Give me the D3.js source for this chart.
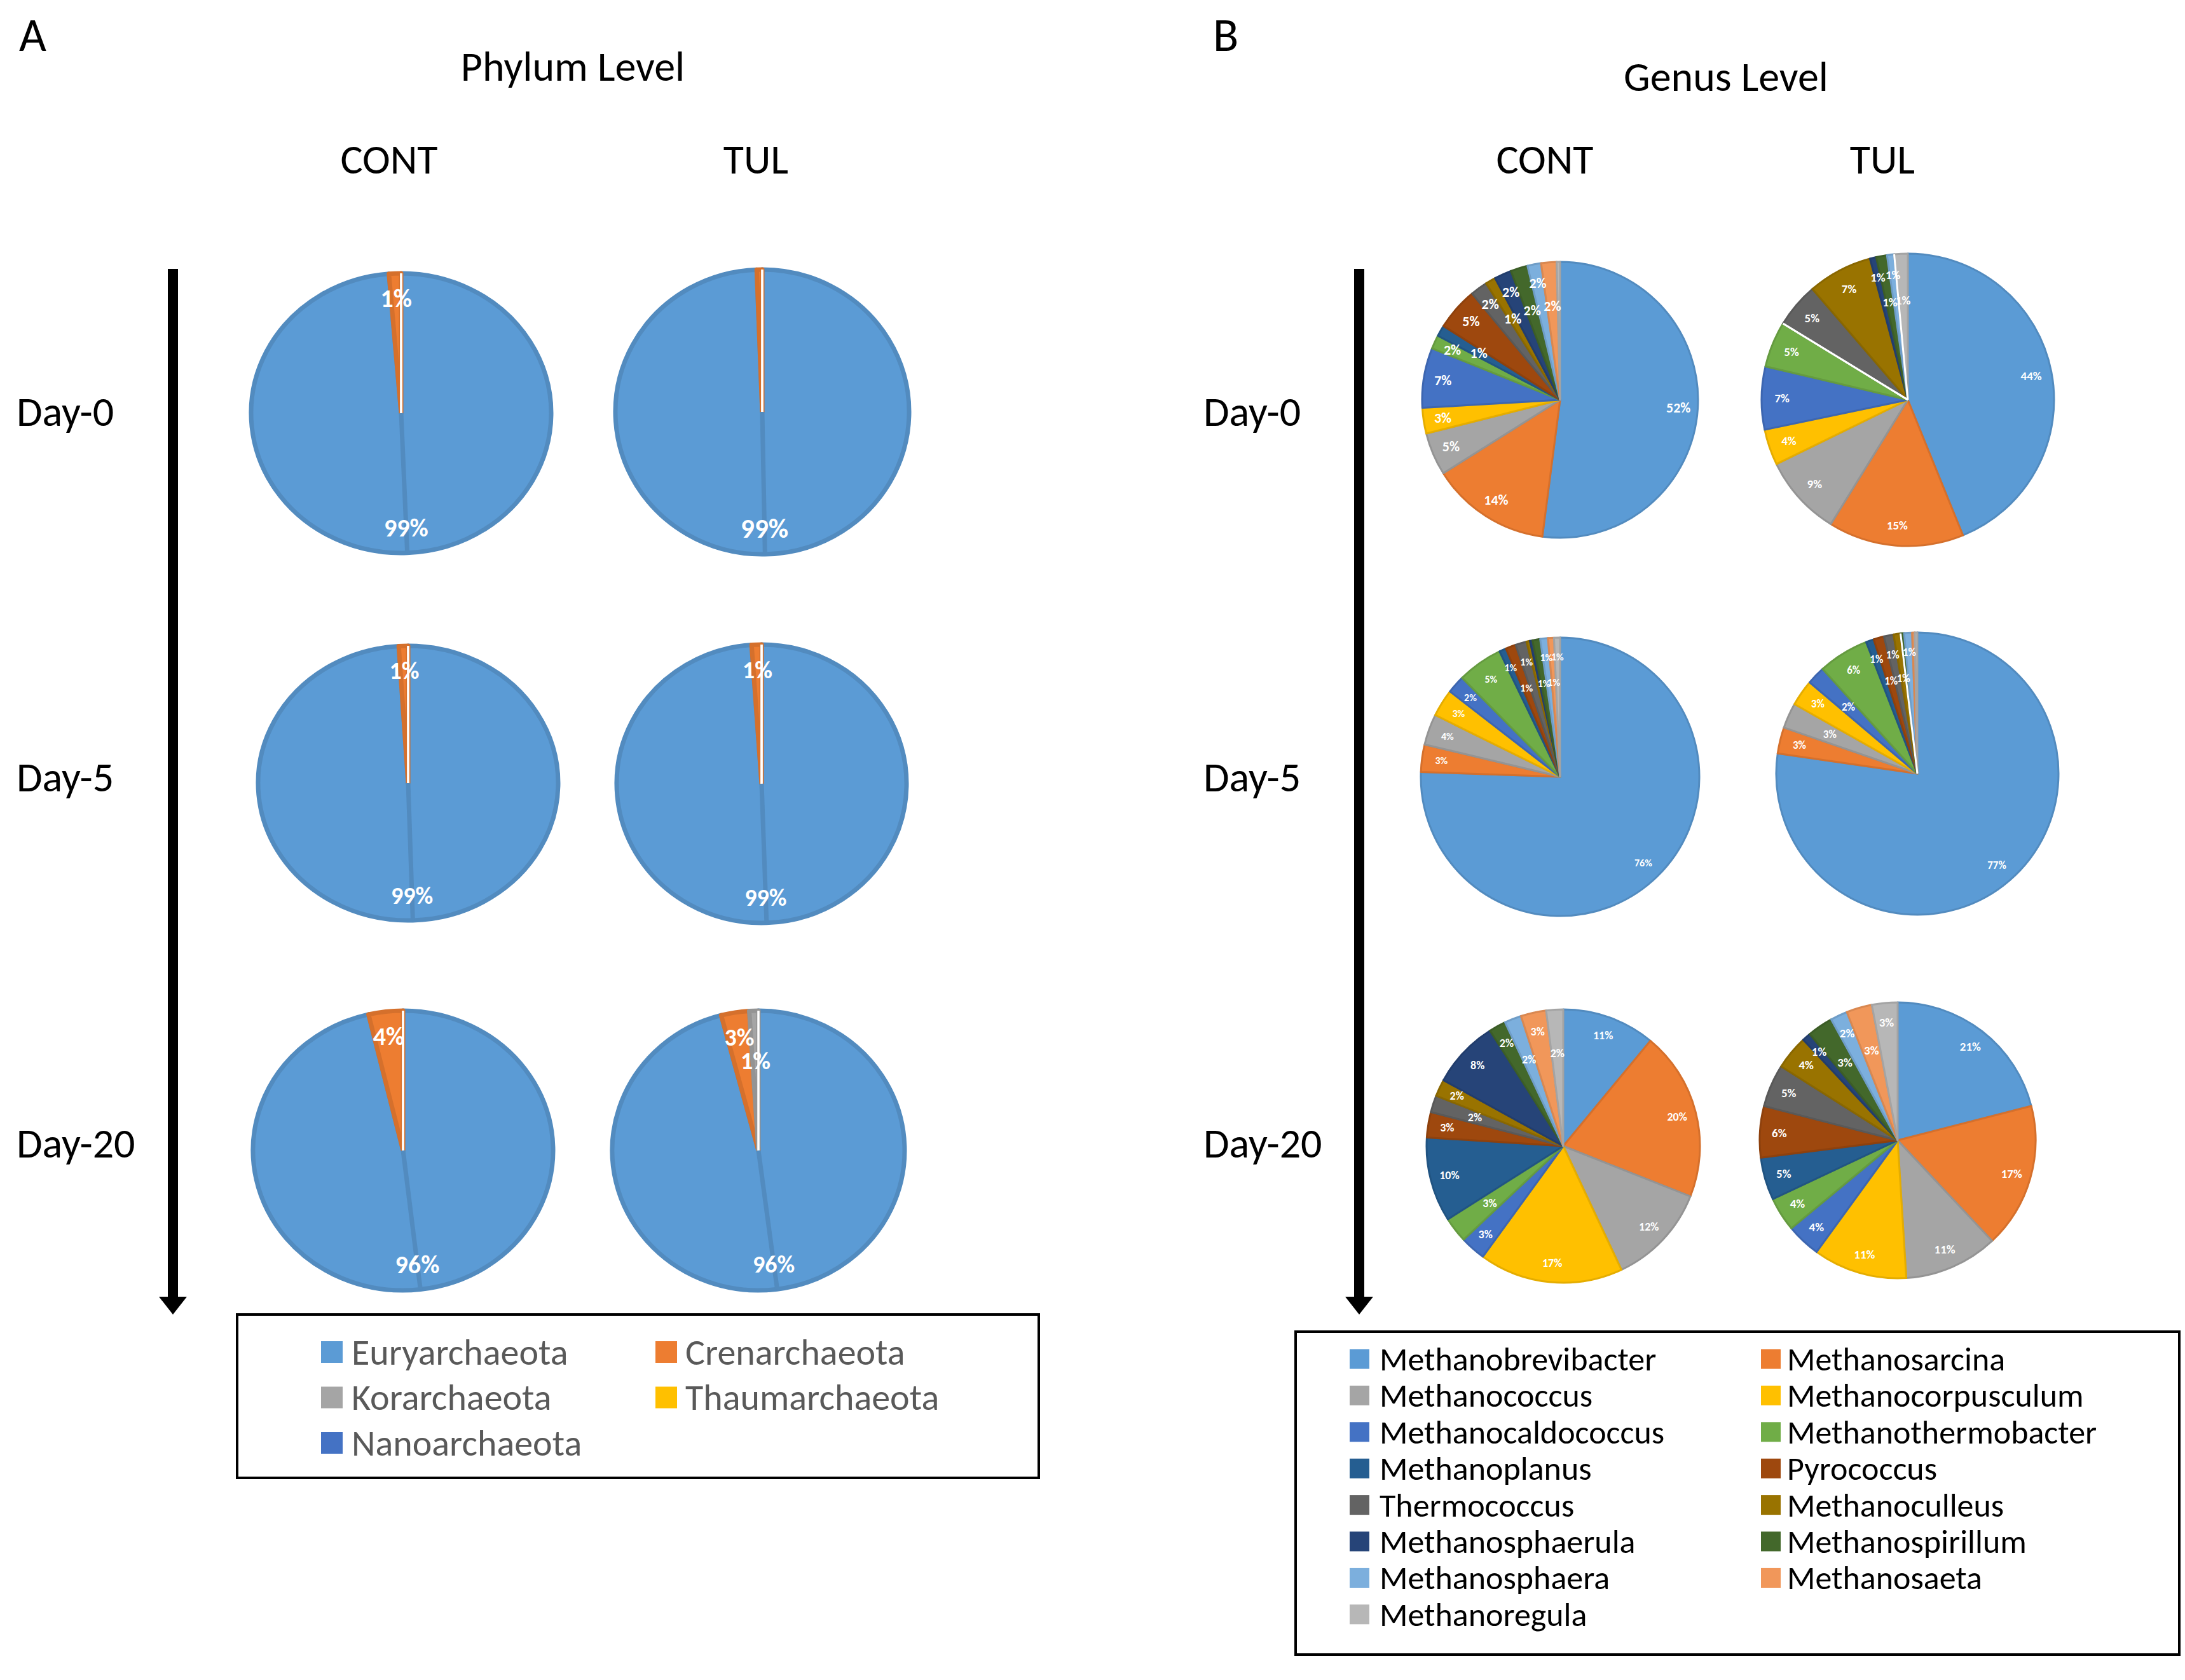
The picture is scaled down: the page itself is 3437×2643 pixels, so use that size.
<!DOCTYPE html>
<html>
<head>
<meta charset="utf-8">
<script src="https://d3js.org/d3.v7.min.js"></script>
<style>
    body { margin: 0; background: #fff; }
    svg text { font-family: Carlito, Lato, "Open Sans", sans-serif; }
</style>
</head>
<body>
<svg id="svg"></svg>
<script>
    const W = 3437, H = 2643;

    // ---- data (percent of reads) ----
    const days = ['Day-0', 'Day-5', 'Day-20'];
    const groups = ['CONT', 'TUL'];

    const phyla = ['Euryarchaeota', 'Crenarchaeota', 'Korarchaeota', 'Thaumarchaeota', 'Nanoarchaeota'];
    const phylumColors = ['#5b9bd5', '#ed7d31', '#a5a5a5', '#ffc000', '#4472c4'];
    // [CONT, TUL]
    const phylumDay0  = [[98.7, 1.3, 0, 0, 0], [99.4, 0.6, 0, 0, 0]];
    const phylumDay5  = [[99.0, 1.0, 0, 0, 0], [98.9, 1.1, 0, 0, 0]];
    const phylumDay20 = [[96.3, 3.7, 0, 0, 0], [95.9, 3.1, 1.0, 0, 0]];

    const genera = ['Methanobrevibacter', 'Methanosarcina', 'Methanococcus', 'Methanocorpusculum',
        'Methanocaldococcus', 'Methanothermobacter', 'Methanoplanus', 'Pyrococcus', 'Thermococcus',
        'Methanoculleus', 'Methanosphaerula', 'Methanospirillum', 'Methanosphaera', 'Methanosaeta',
        'Methanoregula'];
    const genusColors = ['#5b9bd5', '#ed7d31', '#a5a5a5', '#ffc000', '#4472c4', '#70ad47', '#255e91',
        '#9e480e', '#636363', '#997300', '#264478', '#43682b', '#7cafdd', '#f1975a', '#b7b7b7'];
    const genusDay0 = [
        [52.0, 14.0, 5.0, 3.0, 7.0, 1.6, 1.3, 5.0, 2.0, 1.2, 2.0, 2.0, 1.6, 1.8, 0.4],
        [44.2, 15.1, 9.0, 4.0, 7.0, 5.1, 0, 0, 5.0, 7.2, 0.7, 1.2, 0.8, 0, 1.5]
    ];
    const genusDay5 = [
        [76.0, 3.2, 3.6, 3.2, 2.1, 5.3, 0.8, 1.2, 1.3, 0.4, 0.3, 0.9, 0.9, 0.7, 0.7],
        [77.2, 3.0, 2.9, 3.0, 2.1, 5.8, 0.9, 1.2, 1.1, 0.8, 0, 0.4, 0.9, 0.3, 0.3]
    ];
    const genusDay20 = [
        [11, 20, 12, 17, 3, 3, 10, 3, 2, 2, 8, 2, 2, 3, 2],
        [21, 17, 11, 11, 4, 4, 5, 6, 5, 4, 1, 3, 2, 3, 3]
    ];

    const phylumData = [phylumDay0, phylumDay5, phylumDay20];
    const genusData = [genusDay0, genusDay5, genusDay20];

    // ---- layout ----
    const phylumPos = [
        [{cx: 631, cy: 650, rx: 236, ry: 220, fs: 40}, {cx: 1199, cy: 648, rx: 231, ry: 224, fs: 43}],
        [{cx: 642, cy: 1232, rx: 236, ry: 216, fs: 38}, {cx: 1198, cy: 1233, rx: 228, ry: 219, fs: 38}],
        [{cx: 634, cy: 1810, rx: 236, ry: 220, fs: 40}, {cx: 1193, cy: 1810, rx: 230, ry: 220, fs: 38}]
    ];
    const genusPos = [
        [{cx: 2454, cy: 629, rx: 217, ry: 217, fs: 22}, {cx: 3001, cy: 629, rx: 230, ry: 230, fs: 19}],
        [{cx: 2454, cy: 1222, rx: 219, ry: 219, fs: 16}, {cx: 3016, cy: 1217, rx: 222, ry: 222, fs: 17}],
        [{cx: 2459, cy: 1803, rx: 215, ry: 215, fs: 18}, {cx: 2985, cy: 1794, rx: 217, ry: 217, fs: 19}]
    ];

    let svg = d3.select('#svg')
        .attr('width', W).attr('height', H)
        .attr('viewBox', `0 0 ${W} ${H}`);

    svg.append('rect').attr('width', W).attr('height', H).attr('fill', '#fff');

    function drawPie(values, colors, pos, opts) {
        const R = 100;
        let arcs = d3.pie().sort(null).value(d => d)(values);
        let total = d3.sum(values);
        let arc = d3.arc().innerRadius(0).outerRadius(R);

        let g = svg.append('g')
            .attr('transform', `translate(${pos.cx},${pos.cy}) scale(${pos.rx / R},${pos.ry / R})`);

        g.selectAll('path.slice')
            .data(arcs.filter(a => a.value > 0))
            .enter()
            .append('path')
            .attr('class', 'slice')
            .attr('d', arc)
            .attr('fill', a => colors[a.index])
            .attr('stroke', a => d3.color(colors[a.index]).darker(0.3))
            .attr('stroke-width', opts.stroke)
            .attr('stroke-linejoin', 'round')
            .attr('vector-effect', 'non-scaling-stroke');

        // zero slices show up as thin white spokes
        g.selectAll('path.zero')
            .data(arcs.filter(a => a.value === 0))
            .enter()
            .append('path')
            .attr('class', 'zero')
            .attr('d', arc)
            .attr('fill', 'none')
            .attr('stroke', '#fff')
            .attr('stroke-width', 3)
            .attr('vector-effect', 'non-scaling-stroke');

        if (opts.spokes) {
            g.selectAll('line.spoke')
                .data(arcs.filter(a => a.value / total > 0.5))
                .enter()
                .append('line')
                .attr('x1', 0).attr('y1', 0)
                .attr('x2', a => Math.sin((a.startAngle + a.endAngle) / 2) * R)
                .attr('y2', a => -Math.cos((a.startAngle + a.endAngle) / 2) * R)
                .attr('stroke', a => d3.color(colors[a.index]).darker(0.3))
                .attr('stroke-width', opts.stroke)
                .attr('vector-effect', 'non-scaling-stroke');
        }

        // labels; crowded neighbours alternate between an outer and inner ring
        let run = 0;
        arcs.forEach(a => {
            let pct = a.value / total * 100;
            if (pct < 0.65) return;
            let mid = (a.startAngle + a.endAngle) / 2;
            let arcLen = (a.endAngle - a.startAngle) * (pos.rx + pos.ry) / 2 * opts.outer;
            let crowded = arcLen < pos.fs * 2.2;
            run = crowded ? run + 1 : 0;
            let f = (crowded && run % 2 === 0) ? opts.inner : opts.outer;
            svg.append('text')
                .attr('x', pos.cx + Math.sin(mid) * pos.rx * f)
                .attr('y', pos.cy - Math.cos(mid) * pos.ry * f)
                .attr('text-anchor', 'middle')
                .attr('dominant-baseline', 'central')
                .attr('font-size', pos.fs)
                .attr('font-weight', 'bold')
                .attr('fill', '#fff')
                .text(Math.round(pct) + '%');
        });
    }

    days.forEach((day, i) => {
        groups.forEach((grp, j) => {
            drawPie(phylumData[i][j], phylumColors, phylumPos[i][j],
                {stroke: 7, spokes: true, outer: 0.82, inner: 0.64});
            drawPie(genusData[i][j], genusColors, genusPos[i][j],
                {stroke: 3, spokes: false, outer: 0.86, inner: 0.68});
        });
    });

    // ---- titles ----
    function label(txt, x, y, size, anchor = 'middle', fill = '#000') {
        svg.append('text')
            .attr('x', x).attr('y', y)
            .attr('text-anchor', anchor)
            .attr('font-size', size)
            .attr('fill', fill)
            .text(txt);
    }

    label('A', 30, 80, 74, 'start');
    label('B', 1908, 80, 74, 'start');
    label('Phylum Level', 901, 127, 66);
    label('Genus Level', 2715, 143, 66);
    label('CONT', 612, 273, 66);
    label('TUL', 1189, 273, 66);
    label('CONT', 2430, 273, 66);
    label('TUL', 2961, 273, 66);

    const dayY = [670, 1245, 1821];
    days.forEach((d, i) => {
        label(d, 26, dayY[i], 66, 'start');
        label(d, 1893, dayY[i], 66, 'start');
    });

    // ---- time arrows ----
    [272, 2138].forEach(x => {
        svg.append('rect')
            .attr('x', x - 8).attr('y', 423)
            .attr('width', 16).attr('height', 1625)
            .attr('fill', '#000');
        svg.append('path')
            .attr('d', `M${x - 22},2040 L${x + 22},2040 L${x},2068 Z`)
            .attr('fill', '#000');
    });

    // ---- legends ----
    function legend(names, colors, box, col, rowY, step, size, sw, textFill) {
        svg.append('rect')
            .attr('x', box.x).attr('y', box.y)
            .attr('width', box.w).attr('height', box.h)
            .attr('fill', 'none')
            .attr('stroke', '#000')
            .attr('stroke-width', 4);

        names.forEach((n, i) => {
            let c = i % 2, r = Math.floor(i / 2);
            let y = rowY + r * step;
            svg.append('rect')
                .attr('x', col[c].sw).attr('y', y - sw / 2)
                .attr('width', sw).attr('height', sw)
                .attr('fill', colors[i]);
            svg.append('text')
                .attr('x', col[c].tx).attr('y', y)
                .attr('dominant-baseline', 'central')
                .attr('font-size', size)
                .attr('fill', textFill)
                .text(n);
        });
    }

    legend(phyla, phylumColors, {x: 373, y: 2068, w: 1261, h: 257},
        [{sw: 505, tx: 553}, {sw: 1031, tx: 1078}], 2127, 71.5, 58, 34, '#595959');

    legend(genera, genusColors, {x: 2038, y: 2095, w: 1390, h: 508},
        [{sw: 2123, tx: 2170}, {sw: 2770, tx: 2811}], 2138, 57.4, 52, 31, '#000');
</script>
</body>
</html>
